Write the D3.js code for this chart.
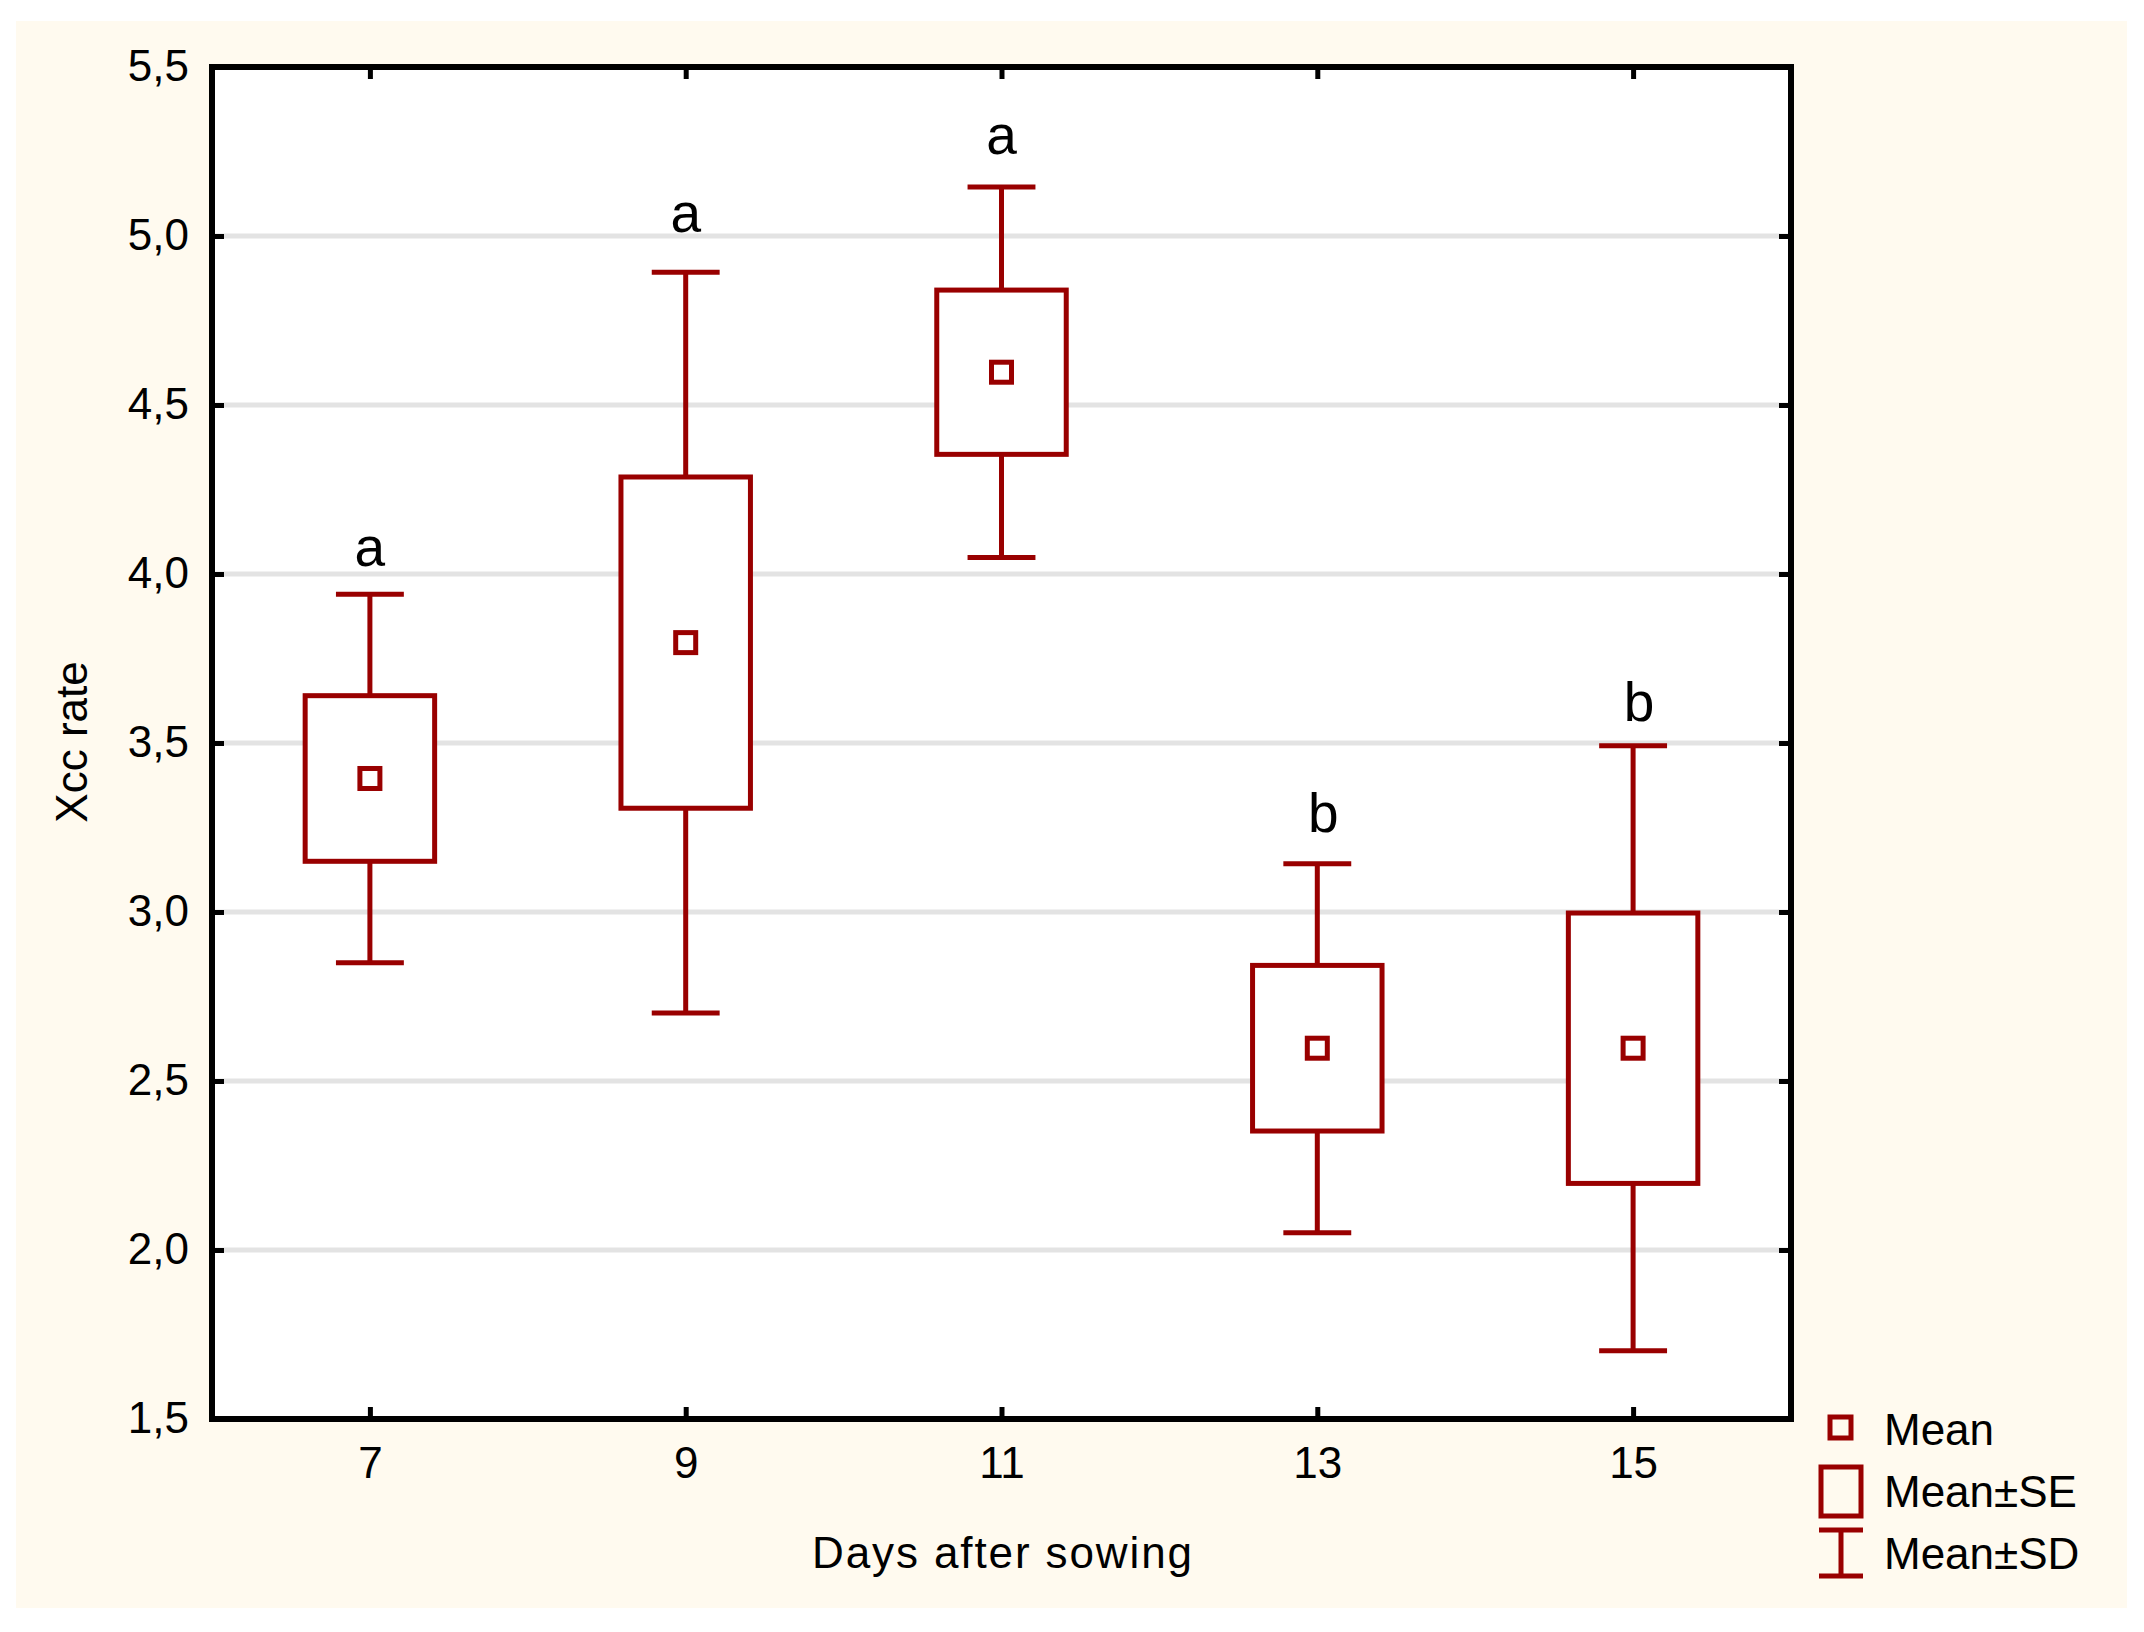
<!DOCTYPE html>
<html>
<head>
<meta charset="utf-8">
<script src="https://cdn.jsdelivr.net/npm/d3@7"></script>
<style>
  body { margin: 0; background: #fff; }
  text { font-family: "Liberation Sans", Arial, sans-serif; fill: #000; }
</style>
</head>
<body>
<div id="chart"></div>
<script>
// values
const days = [7, 9, 11, 13, 15];
const means = [3.395, 3.797, 4.597, 2.597, 2.597];
const se = [0.245, 0.49, 0.243, 0.245, 0.40];
const sd = [0.545, 1.096, 0.548, 0.546, 0.895];
const letters = ["a", "a", "a", "b", "b"];
const letterAt = [4.024, 5.012, 5.243, 3.237, 3.565];
const yTicks = [1.5, 2.0, 2.5, 3.0, 3.5, 4.0, 4.5, 5.0, 5.5];
const gridTicks = [2.0, 2.5, 3.0, 3.5, 4.0, 4.5, 5.0];
const legendItems = ["Mean", "Mean±SE", "Mean±SD"];

const W = 2144, H = 1632;
const red = "#990000";
const pLeft = 212, pRight = 1791, pTop = 67, pBottom = 1419;

const svg = d3.select("#chart").append("svg")
    .attr("width", W).attr("height", H);

svg.append("rect").attr("x", 16).attr("y", 21)
    .attr("width", 2111).attr("height", 1587).attr("fill", "#fffaef");

const x = d3.scaleLinear().domain([6, 16]).range([pLeft, pRight]);
const y = d3.scaleLinear().domain([1.5, 5.5]).range([pBottom, pTop]);

const comma = d3.formatLocale({decimal: ",", thousands: ".", grouping: [3], currency: ["", ""]}).format(".1f");

svg.append("rect").attr("x", pLeft).attr("y", pTop)
    .attr("width", pRight - pLeft).attr("height", pBottom - pTop).attr("fill", "#fff");

// grid
svg.append("g").selectAll("line").data(gridTicks).join("line")
    .attr("x1", pLeft).attr("x2", pRight)
    .attr("y1", d => y(d)).attr("y2", d => y(d))
    .attr("stroke", "#e3e3e3").attr("stroke-width", 5);

// axes, ticks pointing inward
const fontSize = 44;
const gl = svg.append("g").attr("transform", `translate(${pLeft},0)`)
    .call(d3.axisLeft(y).tickValues(yTicks).tickSize(-12).tickPadding(23).tickFormat(comma));
const gr = svg.append("g").attr("transform", `translate(${pRight},0)`)
    .call(d3.axisRight(y).tickValues(yTicks).tickSize(-12).tickFormat(""));
const gb = svg.append("g").attr("transform", `translate(0,${pBottom})`)
    .call(d3.axisBottom(x).tickValues(days).tickSize(-12).tickPadding(28).tickFormat(d3.format("d")));
const gt = svg.append("g").attr("transform", `translate(0,${pTop})`)
    .call(d3.axisTop(x).tickValues(days).tickSize(-12).tickFormat(""));

[gl, gr, gb, gt].forEach(g => {
  g.select(".domain").remove();
  g.selectAll(".tick line").attr("stroke", "#000").attr("stroke-width", 5);
  g.selectAll(".tick text").style("font-size", fontSize + "px")
    .style("font-family", "'Liberation Sans', Arial, sans-serif").attr("fill", "#000");
});
gl.selectAll(".tick text").attr("dy", "0.3em");
gb.selectAll(".tick text").attr("dy", "0.71em");

svg.append("rect").attr("x", pLeft).attr("y", pTop)
    .attr("width", pRight - pLeft).attr("height", pBottom - pTop)
    .attr("fill", "none").attr("stroke", "#000").attr("stroke-width", 6);

// boxes
const g = svg.append("g");
const boxHalf = 0.41, capHalf = 0.215;
days.forEach((d, i) => {
  const m = means[i];
  g.append("line").attr("x1", x(d)).attr("x2", x(d))
      .attr("y1", y(m + sd[i])).attr("y2", y(m - sd[i]))
      .attr("stroke", red).attr("stroke-width", 5);
  [m + sd[i], m - sd[i]].forEach(v => {
    g.append("line").attr("x1", x(d - capHalf)).attr("x2", x(d + capHalf))
        .attr("y1", y(v)).attr("y2", y(v))
        .attr("stroke", red).attr("stroke-width", 5);
  });
  g.append("rect").attr("x", x(d - boxHalf)).attr("y", y(m + se[i]))
      .attr("width", x(d + boxHalf) - x(d - boxHalf))
      .attr("height", y(m - se[i]) - y(m + se[i]))
      .attr("fill", "#fff").attr("stroke", red).attr("stroke-width", 5);
  g.append("rect").attr("x", x(d) - 10).attr("y", y(m) - 10)
      .attr("width", 20).attr("height", 20)
      .attr("fill", "#fff").attr("stroke", red).attr("stroke-width", 5);
  g.append("text").attr("x", x(d) + (letters[i] === "b" ? 6 : 0)).attr("y", y(letterAt[i]))
      .attr("text-anchor", "middle").style("font-size", "55px").text(letters[i]);
});

// axis titles
svg.append("text").attr("x", 1002).attr("y", 1568)
    .attr("text-anchor", "middle").style("font-size", fontSize + "px")
    .attr("textLength", 380).attr("lengthAdjust", "spacing")
    .text("Days after sowing");
svg.append("text").attr("transform", "translate(87,742) rotate(-90)")
    .attr("text-anchor", "middle").style("font-size", fontSize + "px")
    .text("Xcc rate");

// legend
const lg = svg.append("g");
lg.append("rect").attr("x", 1830).attr("y", 1417).attr("width", 21).attr("height", 21)
    .attr("fill", "none").attr("stroke", red).attr("stroke-width", 5);
lg.append("rect").attr("x", 1821).attr("y", 1467).attr("width", 40).attr("height", 49)
    .attr("fill", "none").attr("stroke", red).attr("stroke-width", 5);
lg.append("line").attr("x1", 1819).attr("x2", 1863).attr("y1", 1530).attr("y2", 1530)
    .attr("stroke", red).attr("stroke-width", 5);
lg.append("line").attr("x1", 1819).attr("x2", 1863).attr("y1", 1576).attr("y2", 1576)
    .attr("stroke", red).attr("stroke-width", 5);
lg.append("line").attr("x1", 1841).attr("x2", 1841).attr("y1", 1530).attr("y2", 1576)
    .attr("stroke", red).attr("stroke-width", 5);
lg.selectAll("text").data(legendItems).join("text")
    .attr("x", 1884).attr("y", (d, i) => 1445 + i * 62)
    .style("font-size", fontSize + "px").text(d => d);
</script>
</body>
</html>
